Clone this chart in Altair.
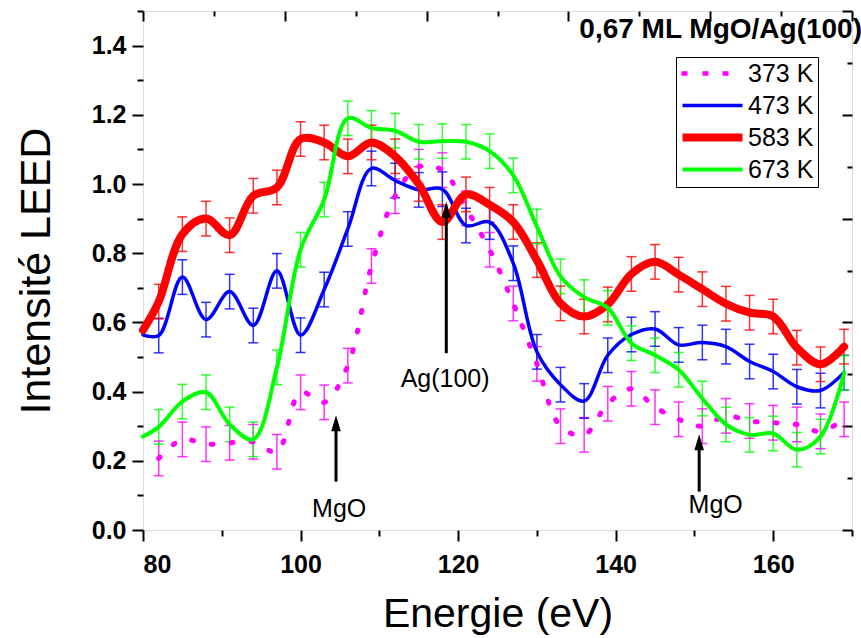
import altair as alt
import pandas as pd

SERIES = ["373 K", "473 K", "583 K", "673 K"]
COLORS = ["#ff00ff", "#0000ff", "#ff0000", "#00ff00"]

E_LINE = [80, 82, 85, 88, 91, 94, 97, 100, 103, 106, 109, 112, 115, 118, 121,
          124, 127, 130, 133, 136, 139, 142, 145, 148, 151, 154, 157, 160, 163, 166, 169]
E_BARS = [82, 85, 88, 91, 94, 97, 100, 103, 106, 109, 112, 115, 118, 121,
          124, 127, 130, 133, 136, 139, 142, 145, 148, 151, 154, 157, 160, 163, 166, 169]

I_373 = [0.207, 0.262, 0.248, 0.252, 0.255, 0.226, 0.398, 0.369, 0.475, 0.763,
         0.965, 1.05, 1.04, 0.93, 0.81, 0.655, 0.48, 0.30, 0.275, 0.365,
         0.408, 0.355, 0.32, 0.30, 0.33, 0.315, 0.31, 0.305, 0.285, 0.32]
I_473 = [0.564, 0.562, 0.731, 0.608, 0.689, 0.591, 0.749, 0.563, 0.695, 0.87,
         1.045, 1.01, 0.983, 0.985, 0.88, 0.89, 0.771, 0.515, 0.42, 0.373,
         0.505, 0.565, 0.581, 0.535, 0.542, 0.53, 0.487, 0.458, 0.414, 0.403, 0.455]
I_583 = [0.578, 0.66, 0.855, 0.90, 0.852, 0.966, 0.99, 1.13, 1.12, 1.08,
         1.12, 1.08, 1.0, 0.89, 0.97, 0.94, 0.89, 0.78, 0.655, 0.617,
         0.652, 0.74, 0.775, 0.738, 0.696, 0.654, 0.628, 0.617, 0.527, 0.479, 0.53]
I_673 = [0.27, 0.298, 0.371, 0.398, 0.305, 0.262, 0.47, 0.81, 0.955, 1.19,
         1.162, 1.154, 1.122, 1.124, 1.122, 1.095, 1.025, 0.877, 0.733, 0.673,
         0.642, 0.54, 0.505, 0.463, 0.38, 0.305, 0.275, 0.279, 0.232, 0.27, 0.454]
ERR = 0.05

ANNOT_TEXT = ["MgO", "Ag(100)", "MgO"]
ANNOT_E = [104.9, 118.35, 152.7]
ANNOT_I = [0.037, 0.412, 0.048]
ARROW_E = [104.5, 118.5, 150.6]
ARROW_FROM = [0.14, 0.511, 0.111]
ARROW_TO = [0.332, 0.949, 0.277]

TITLE = "0,67 ML MgO/Ag(100)"
X_TITLE = "Energie (eV)"
Y_TITLE = "Intensité LEED"

FONT = "Liberation Sans"

# legend glyphs (line samples), in symbol units
LEGEND_GLYPHS = [
    "M-1.1,-0.22L-0.5,-0.22L-0.5,0.22L-1.1,0.22Z"
    "M1,-0.22L1.6,-0.22L1.6,0.22L1,0.22Z"
    "M3,-0.22L3.6,-0.22L3.6,0.22L3,0.22Z",
    "M-1,-0.17L5,-0.17L5,0.17L-1,0.17Z",
    "M-1,-0.4L5,-0.4L5,0.4L-1,0.4Z",
    "M-1,-0.2L5,-0.2L5,0.2L-1,0.2Z",
]

# ---- tables
series_data = [("373 K", E_BARS, I_373), ("473 K", E_LINE, I_473),
               ("583 K", E_LINE, I_583), ("673 K", E_LINE, I_673)]
rows, bar_rows = [], []
for s, xs_, ys_ in series_data:
    for x, y in zip(xs_, ys_):
        rows.append({"E": x, "I": y, "serie": s})
        if x in E_BARS:
            bar_rows.append({"E": x, "lo": y - ERR, "hi": y + ERR, "serie": s})
lines_df = pd.DataFrame(rows)
bars_df = pd.DataFrame(bar_rows)
text_df = pd.DataFrame({"t": ANNOT_TEXT, "E": ANNOT_E, "I": ANNOT_I})
arrow_df = pd.DataFrame({"E": ARROW_E, "a": ARROW_FROM, "b": ARROW_TO})
legend_df = pd.DataFrame({"serie": SERIES})
title_df = pd.DataFrame({"t": [TITLE]})

xs = alt.Scale(domain=[80, 170], nice=False, zero=False)
ys = alt.Scale(domain=[0, 1.5], nice=False, zero=False)
cs = alt.Scale(domain=SERIES, range=COLORS)
ss = alt.Scale(domain=SERIES, range=LEGEND_GLYPHS)

legend = alt.Legend(
    title=None, orient="none", legendX=533, legendY=46,
    symbolSize=400, symbolStrokeWidth=0, symbolOpacity=1,
    labelFont=FONT, labelFontSize=25, labelColor="black", labelOffset=43,
    strokeColor="black", fillColor="white", padding=4, rowPadding=6,
)
color = alt.Color("serie:N", scale=cs, legend=None)

common = dict(domain=False, grid=False, tickColor="black", tickWidth=2)
ax_b_major = alt.Axis(orient="bottom", values=[80, 100, 120, 140, 160], tickSize=11,
                      labelFont=FONT, labelFontSize=25, labelFontWeight="bold",
                      labelColor="black", labelPadding=11, format="d",
                      title=X_TITLE, titleFont=FONT, titleFontSize=41,
                      titleFontWeight="normal", titleColor="black", titlePadding=17,
                      **common)
ax_b_minor = alt.Axis(orient="bottom", values=[90, 110, 130, 150, 170], tickSize=6,
                      labels=False, title=None, **common)
ax_t_major = alt.Axis(orient="top", values=[80, 98, 116, 134, 152, 170], tickSize=10,
                      offset=-10, labels=False, title=None, **common)
ax_t_minor = alt.Axis(orient="top", values=[89, 107, 125, 143, 161], tickSize=5,
                      offset=-5, labels=False, title=None, **common)
ax_l_major = alt.Axis(orient="left", values=[0, 0.2, 0.4, 0.6, 0.8, 1.0, 1.2, 1.4],
                      tickSize=11, format=".1f",
                      labelFont=FONT, labelFontSize=25, labelFontWeight="bold",
                      labelColor="black", labelPadding=6,
                      title=Y_TITLE, titleFont=FONT, titleFontSize=43,
                      titleFontWeight="normal", titleColor="black", titlePadding=33,
                      **common)
ax_l_minor = alt.Axis(orient="left", values=[0.1, 0.3, 0.5, 0.7, 0.9, 1.1, 1.3, 1.5],
                      tickSize=6, labels=False, title=None, **common)
ax_r_major = alt.Axis(orient="right", values=[0, 0.3, 0.6, 0.9, 1.2, 1.5], tickSize=10,
                      offset=-10, labels=False, title=None, **common)
ax_r_minor = alt.Axis(orient="right", values=[0.15, 0.45, 0.75, 1.05, 1.35], tickSize=5,
                      offset=-5, labels=False, title=None, **common)

rules = alt.Chart(bars_df).mark_rule(strokeWidth=1.5, opacity=0.8).encode(
    x=alt.X("E:Q", scale=xs, axis=None),
    y=alt.Y("lo:Q", scale=ys, axis=None),
    y2="hi:Q",
    color=color,
)
caps = alt.Chart(bars_df).transform_fold(["lo", "hi"], as_=["k", "v"]).mark_tick(
    orient="horizontal", size=10, thickness=1.5, opacity=0.8
).encode(
    x=alt.X("E:Q", scale=xs, axis=None),
    y=alt.Y("v:Q", scale=ys, axis=None),
    color=color,
)


def line_layer(s, width, ax_x, ax_y, dash=None):
    kw = dict(strokeWidth=width, interpolate="catmull-rom", strokeCap="round",
              strokeJoin="round")
    if dash is not None:
        kw["strokeDash"] = dash
    return alt.Chart(lines_df).transform_filter(alt.datum.serie == s).mark_line(**kw).encode(
        x=alt.X("E:Q", scale=xs, axis=ax_x),
        y=alt.Y("I:Q", scale=ys, axis=ax_y),
        color=color,
        order="E:Q",
    )


l373 = line_layer("373 K", 5, ax_b_major, ax_l_major, dash=[2, 18])
l473 = line_layer("473 K", 3.5, ax_b_minor, ax_l_minor)
l583 = line_layer("583 K", 8, ax_t_major, ax_r_major)
l673 = line_layer("673 K", 4, ax_t_minor, ax_r_minor)

# legend carrier: no visible marks, only the merged color/shape legend
legend_layer = alt.Chart(legend_df).transform_filter("false").mark_point(filled=True).encode(
    color=alt.Color("serie:N", scale=cs, legend=legend),
    shape=alt.Shape("serie:N", scale=ss, legend=legend),
)

shafts = alt.Chart(arrow_df).mark_rule(strokeWidth=3, color="black", y2Offset=10).encode(
    x=alt.X("E:Q", scale=xs, axis=None),
    y=alt.Y("a:Q", scale=ys, axis=None),
    y2="b:Q",
)
heads = alt.Chart(arrow_df).mark_point(
    shape="M0,-1L0.6,1L-0.6,1Z", size=256, filled=True, color="black",
    opacity=1, yOffset=8, strokeWidth=0
).encode(
    x=alt.X("E:Q", scale=xs, axis=None),
    y=alt.Y("b:Q", scale=ys, axis=None),
)
texts = alt.Chart(text_df).mark_text(
    font=FONT, fontSize=25, color="black", align="center", baseline="alphabetic"
).encode(
    x=alt.X("E:Q", scale=xs, axis=None),
    y=alt.Y("I:Q", scale=ys, axis=None),
    text="t:N",
)
title_mark = alt.Chart(title_df).mark_text(
    font=FONT, fontSize=28, fontWeight="bold", color="black", align="right",
    baseline="alphabetic", dx=10, dy=27
).encode(
    x=alt.datum(170, scale=xs, axis=None),
    y=alt.datum(1.5, scale=ys, axis=None),
    text="t:N",
)

chart = alt.layer(rules, caps, l373, l473, l583, l673, legend_layer,
                  shafts, heads, texts, title_mark).resolve_axis(
    x="independent", y="independent"
).resolve_legend(
    color="independent", shape="independent"
).properties(
    width=709, height=519,
    padding={"left": 143, "top": 11, "right": 9, "bottom": 108},
    autosize=alt.AutoSizeParams(type="none"),
).configure_view(stroke="black", strokeWidth=2).configure(background="white")

chart.save("out.html", embed_options={"renderer": "svg", "actions": False})
